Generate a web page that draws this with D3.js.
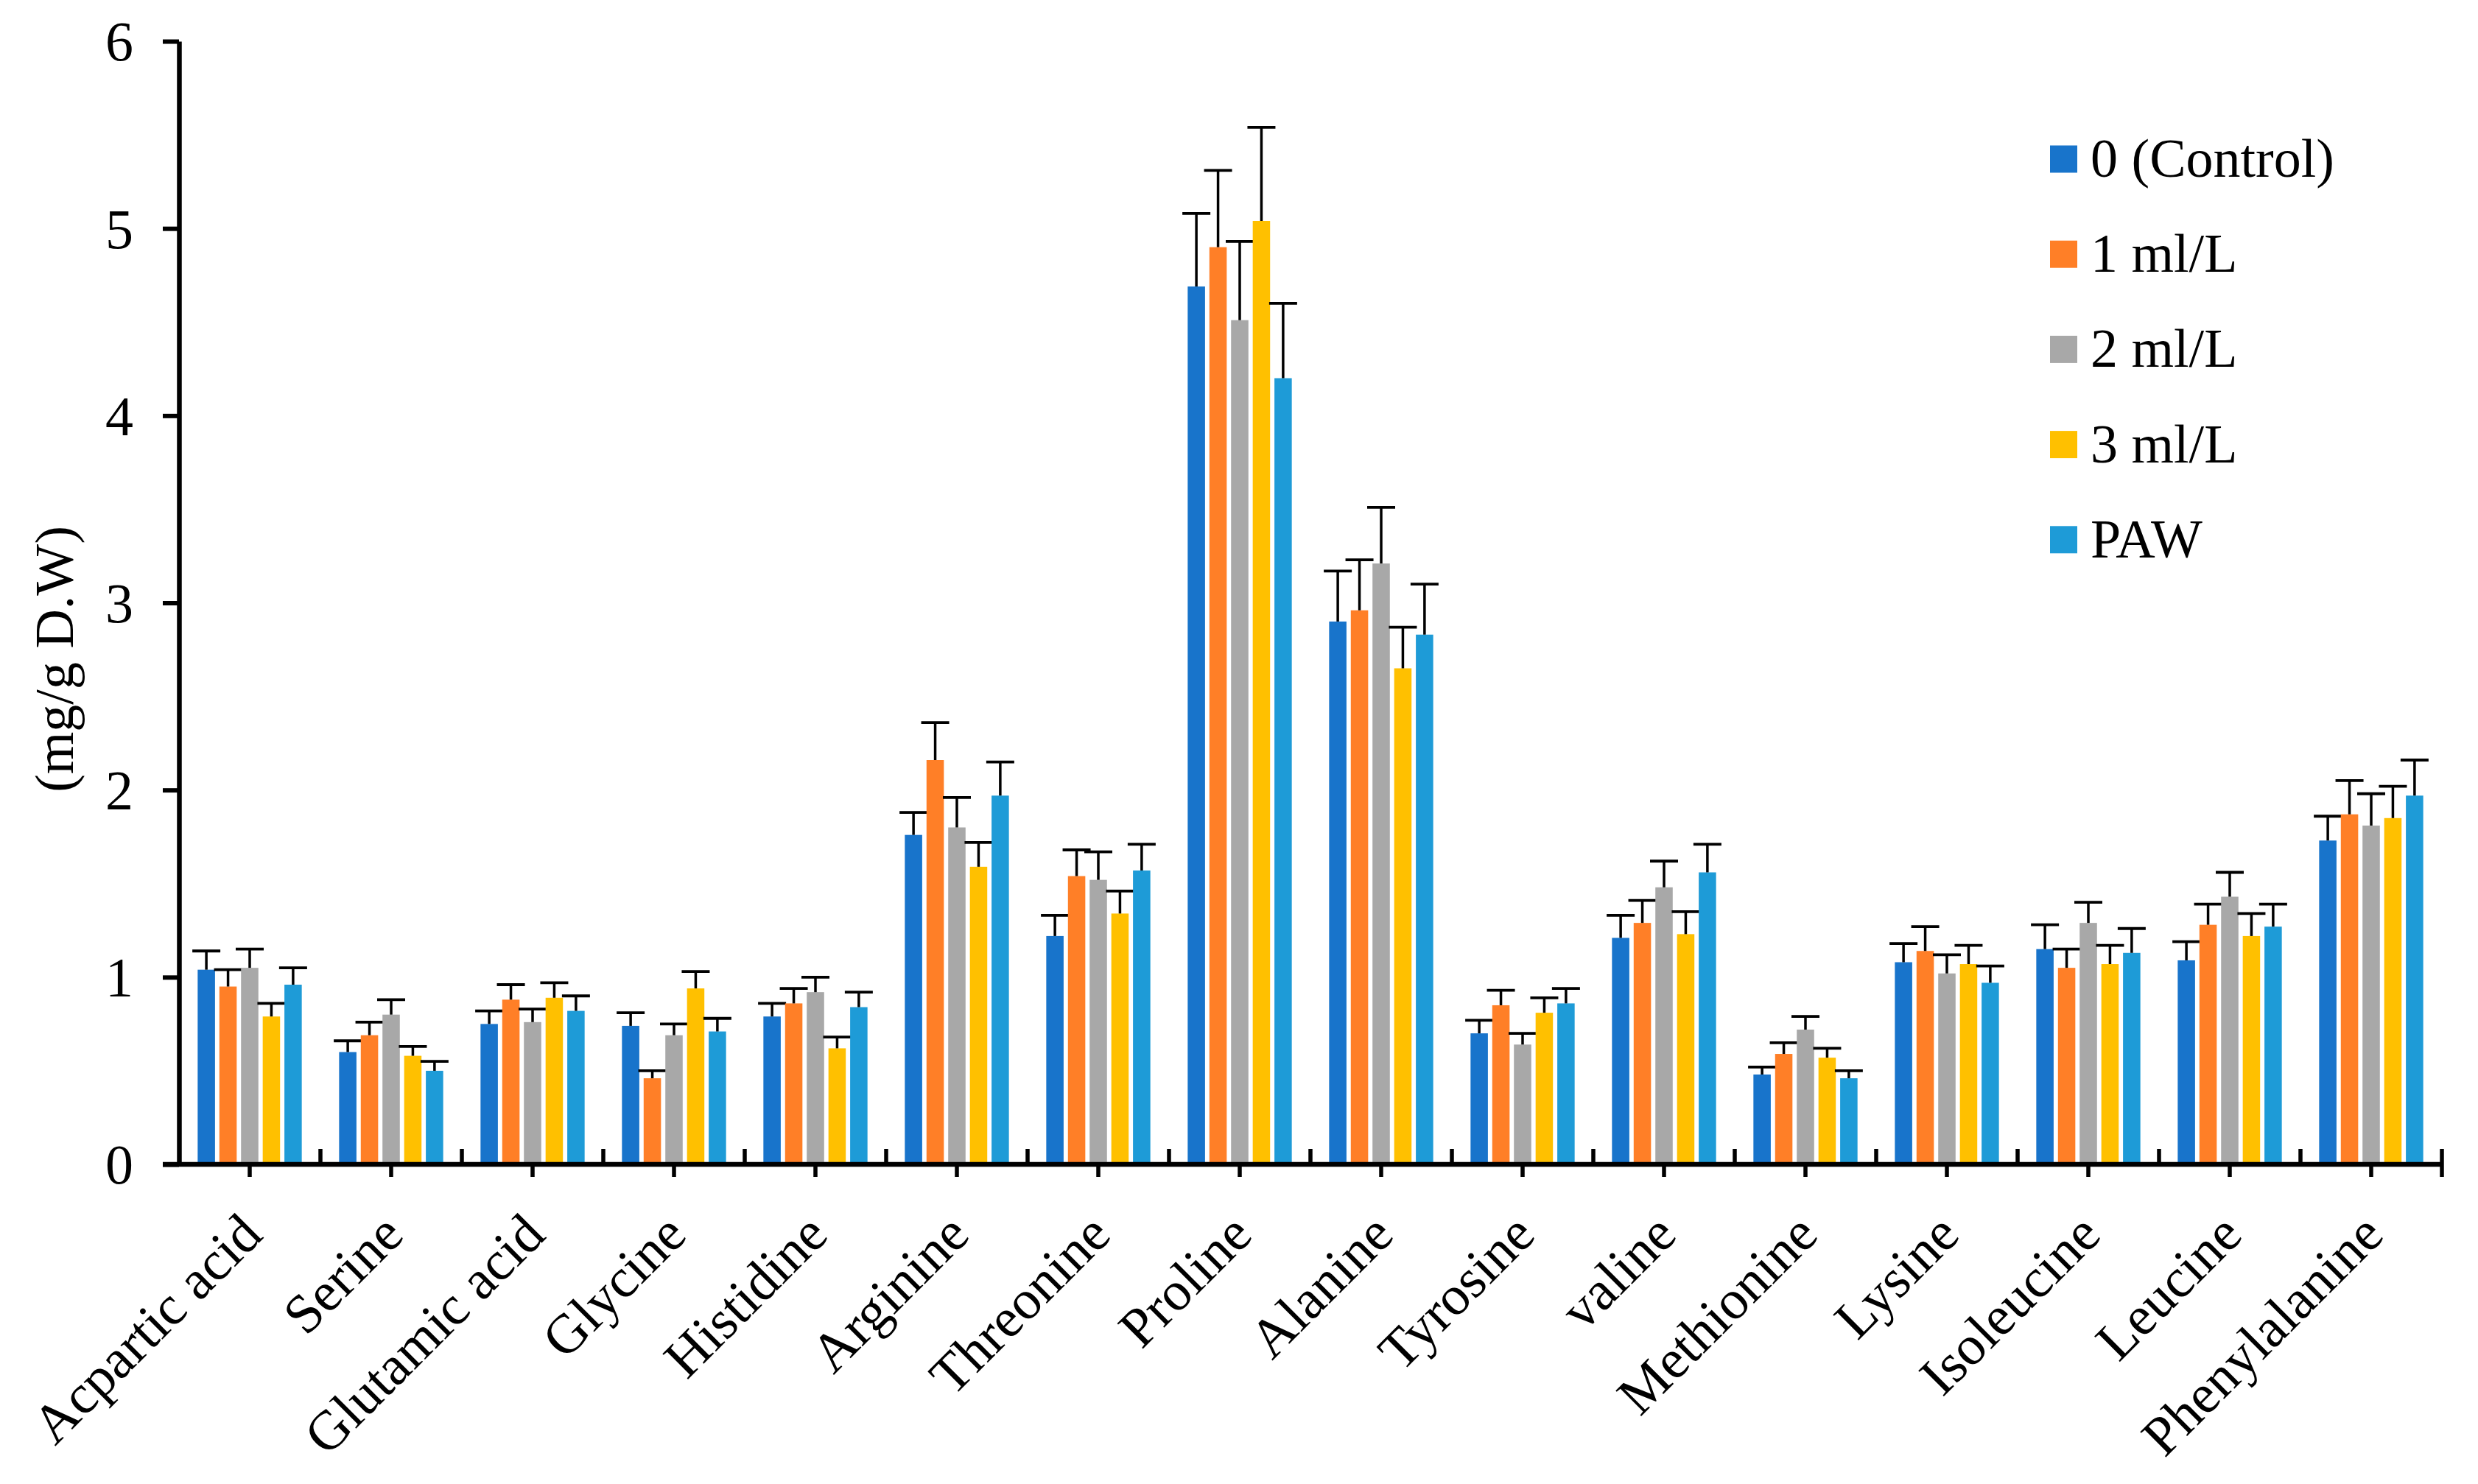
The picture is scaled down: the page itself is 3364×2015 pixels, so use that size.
<!DOCTYPE html>
<html>
<head>
<meta charset="utf-8">
<script src="https://cdnjs.cloudflare.com/ajax/libs/d3/7.8.5/d3.min.js"></script>
<style>
    body { margin: 0; background: #fff; }
    .container { width: 3364px; height: 2015px; }
    text { font-family: "Liberation Serif", "Times New Roman", serif; fill: #000; }
</style>
</head>
<body>
<div class="container"></div>
<script>
/*
    Data
*/
const categories = ["Acpartic acid", "Serine", "Glutamic acid", "Glycine", "Histidine", "Arginine",
    "Threonine", "Proline", "Alanine", "Tyrosine", "valine", "Methionine", "Lysine",
    "Isoleucine", "Leucine", "Phenylalanine"];

const series_names = ["0 (Control)", "1 ml/L", "2 ml/L", "3 ml/L", "PAW"];

const control = [1.04, 0.60, 0.75, 0.74, 0.79, 1.76, 1.22, 4.69, 2.90, 0.70, 1.21, 0.48, 1.08, 1.15, 1.09, 1.73];
const ml_1    = [0.95, 0.69, 0.88, 0.46, 0.86, 2.16, 1.54, 4.90, 2.96, 0.85, 1.29, 0.59, 1.14, 1.05, 1.28, 1.87];
const ml_2    = [1.05, 0.80, 0.76, 0.69, 0.92, 1.80, 1.52, 4.51, 3.21, 0.64, 1.48, 0.72, 1.02, 1.29, 1.43, 1.81];
const ml_3    = [0.79, 0.58, 0.89, 0.94, 0.62, 1.59, 1.34, 5.04, 2.65, 0.81, 1.23, 0.57, 1.07, 1.07, 1.22, 1.85];
const paw     = [0.96, 0.50, 0.82, 0.71, 0.84, 1.97, 1.57, 4.20, 2.83, 0.86, 1.56, 0.46, 0.97, 1.13, 1.27, 1.97];

const control_err = [0.10, 0.06, 0.07, 0.07, 0.07, 0.12, 0.11, 0.39, 0.27, 0.07, 0.12, 0.04, 0.10, 0.13, 0.10, 0.13];
const ml_1_err    = [0.09, 0.07, 0.08, 0.04, 0.08, 0.20, 0.14, 0.41, 0.27, 0.08, 0.12, 0.06, 0.13, 0.10, 0.11, 0.18];
const ml_2_err    = [0.10, 0.08, 0.07, 0.06, 0.08, 0.16, 0.15, 0.42, 0.30, 0.06, 0.14, 0.07, 0.10, 0.11, 0.13, 0.17];
const ml_3_err    = [0.07, 0.05, 0.08, 0.09, 0.06, 0.13, 0.12, 0.50, 0.22, 0.08, 0.12, 0.05, 0.10, 0.10, 0.12, 0.17];
const paw_err     = [0.09, 0.05, 0.08, 0.07, 0.08, 0.18, 0.14, 0.40, 0.27, 0.08, 0.15, 0.04, 0.09, 0.13, 0.12, 0.19];

const y_ticks = [0, 1, 2, 3, 4, 5, 6];
const y_title = "(mg/g D.W)";

/*
    Configuration variables
*/
const colors = ["#1874CB", "#FF7F27", "#A8A8A8", "#FFC000", "#1E9BD7"];
const all_values = [control, ml_1, ml_2, ml_3, paw];
const all_errors = [control_err, ml_1_err, ml_2_err, ml_3_err, paw_err];

const svg_dimensions = { width: 3364, height: 2015 };
const plot = { left: 243, right: 3315, top: 56, bottom: 1581 };
const axis_width = 6.5;
const font_size = 74;

/* Data scaling */
let xScale = d3.scaleBand()
                .domain(categories)
                .range([plot.left, plot.right]);

// each bar: 29.45px step, 23.6px wide
let subScale = d3.scaleBand()
                .domain(d3.range(series_names.length))
                .range([-73.6, 73.6])
                .paddingInner(0.2)
                .paddingOuter(0.1);

let yScale = d3.scaleLinear()
                .domain([0, 6])
                .range([plot.bottom, plot.top]);

let container = d3.select('.container').append('svg')
                    .attr('width', svg_dimensions.width)
                    .attr('height', svg_dimensions.height);

container.append('rect')
            .attr('width', svg_dimensions.width)
            .attr('height', svg_dimensions.height)
            .attr('fill', '#fff');

/* Rendering: bars */
all_values.forEach((values, s) => {
    let g = container.append('g');
    g.selectAll('rect')
        .data(values)
        .enter().append('rect')
        .attr('x', (d, i) => xScale(categories[i]) + xScale.bandwidth() / 2 + subScale(s))
        .attr('y', d => yScale(d))
        .attr('width', subScale.bandwidth())
        .attr('height', d => yScale(0) - yScale(d))
        .attr('fill', colors[s]);

    // error bars (upper only)
    let cx = i => xScale(categories[i]) + xScale.bandwidth() / 2 + subScale(s) + subScale.bandwidth() / 2;
    g.selectAll('line.stem')
        .data(values)
        .enter().append('line')
        .attr('class', 'stem')
        .attr('x1', (d, i) => cx(i))
        .attr('x2', (d, i) => cx(i))
        .attr('y1', d => yScale(d))
        .attr('y2', (d, i) => yScale(d + all_errors[s][i]))
        .attr('stroke', '#000')
        .attr('stroke-width', 3.5);
    g.selectAll('line.cap')
        .data(values)
        .enter().append('line')
        .attr('class', 'cap')
        .attr('x1', (d, i) => cx(i) - 19)
        .attr('x2', (d, i) => cx(i) + 19)
        .attr('y1', (d, i) => yScale(d + all_errors[s][i]))
        .attr('y2', (d, i) => yScale(d + all_errors[s][i]))
        .attr('stroke', '#000')
        .attr('stroke-width', 3.8);
});

/* Rendering: axes */
let yAxis = d3.axisLeft(yScale)
                .tickValues(y_ticks)
                .tickFormat(d3.format('d'))
                .tickSizeInner(22)
                .tickSizeOuter(0)
                .tickPadding(40);

let y_g = container.append('g')
            .attr('transform', `translate(${plot.left},0)`)
            .call(yAxis);
y_g.select('.domain').attr('stroke-width', axis_width);
y_g.selectAll('.tick line').attr('stroke-width', 6);
y_g.selectAll('.tick text')
    .attr('font-size', 76)
    .attr('font-family', '"Liberation Serif", serif')
    .attr('dy', '0.34em');

let xAxis = d3.axisBottom(xScale)
                .tickSizeInner(17)
                .tickSizeOuter(0)
                .tickFormat('');

let x_g = container.append('g')
            .attr('transform', `translate(0,${plot.bottom})`)
            .call(xAxis);
x_g.select('.domain')
    .attr('stroke-width', axis_width)
    .attr('d', `M${plot.left - 22},0H${plot.right + 2}`);
x_g.selectAll('.tick line').attr('stroke-width', 5.5);

// boundary ticks pointing into the plot
let boundaries = categories.slice(1).map(c => xScale(c)).concat([plot.right]);
x_g.selectAll('line.inner')
    .data(boundaries)
    .enter().append('line')
    .attr('x1', d => d).attr('x2', d => d)
    .attr('y1', 0).attr('y2', -21)
    .attr('stroke', '#000')
    .attr('stroke-width', 5.5);
x_g.append('line')
    .attr('x1', plot.right).attr('x2', plot.right)
    .attr('y1', 0).attr('y2', 17)
    .attr('stroke', '#000')
    .attr('stroke-width', 5.5);

// rotated category labels
container.append('g').selectAll('text')
    .data(categories)
    .enter().append('text')
    .attr('transform', d => `translate(${xScale(d) + xScale.bandwidth() / 2 + 20},1680) rotate(-45)`)
    .attr('text-anchor', 'end')
    .attr('font-size', 75)
    .text(d => d);

/* Axis title */
container.append('text')
    .attr('transform', 'translate(99,895) rotate(-90)')
    .attr('text-anchor', 'middle')
    .attr('font-size', font_size)
    .text(y_title);

/* Legend */
let legend = container.append('g');
let legend_rows = legend.selectAll('g')
    .data(series_names)
    .enter().append('g')
    .attr('transform', (d, i) => `translate(2783,${216 + i * 129.2})`);
legend_rows.append('rect')
    .attr('x', 0).attr('y', -18.5)
    .attr('width', 37).attr('height', 37)
    .attr('fill', (d, i) => colors[i]);
legend_rows.append('text')
    .attr('x', 55).attr('y', 24)
    .attr('font-size', font_size)
    .text(d => d);
</script>
</body>
</html>
